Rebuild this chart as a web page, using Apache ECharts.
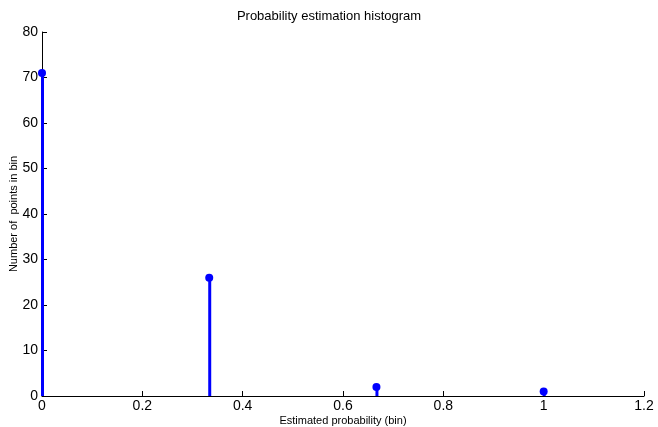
<!DOCTYPE html>
<html>
<head>
<meta charset="utf-8">
<script src="https://cdn.jsdelivr.net/npm/echarts@6/dist/echarts.min.js"></script>
<style>
  html, body { margin: 0; padding: 0; background: #fff; }
  #chart { width: 658px; height: 427px; }
</style>
</head>
<body>
<div id="chart"></div>
<script>
// bin centres and how many points fell into each bin
const binCenters = [0, 1 / 3, 2 / 3, 1]
const counts = [71, 26, 2, 1]
const xTicks = [0, 0.2, 0.4, 0.6, 0.8, 1, 1.2]
const yTicks = [0, 10, 20, 30, 40, 50, 60, 70, 80]

const points = binCenters.map((x, i) => [x, counts[i]])
const font = 'Liberation Sans, Arial, sans-serif'

const chart = echarts.init(document.getElementById('chart'), null, { renderer: 'canvas' })

chart.setOption({
  animation: false,
  title: {
    text: 'Probability estimation histogram',
    left: 'center',
    top: 5,
    textStyle: { fontFamily: font, fontSize: 13, fontWeight: 'normal', color: '#000' }
  },
  grid: { left: 42, right: 14, top: 32, bottom: 31, containLabel: false, outerBoundsMode: 'none' },
  xAxis: {
    type: 'value',
    min: xTicks[0],
    max: xTicks[xTicks.length - 1],
    interval: 0.2,
    name: 'Estimated probability (bin)',
    nameLocation: 'middle',
    nameGap: 19,
    nameMoveOverlap: false,
    nameTextStyle: { fontFamily: font, fontSize: 11, color: '#000' },
    axisLine: { show: true, lineStyle: { color: '#000', width: 1 } },
    axisTick: { show: true, inside: true, length: 5, lineStyle: { color: '#000' } },
    axisLabel: {
      fontFamily: font, fontSize: 14, color: '#000', margin: 3,
      formatter: v => String(Math.round(v * 10) / 10)
    },
    splitLine: { show: false }
  },
  yAxis: {
    type: 'value',
    min: yTicks[0],
    max: yTicks[yTicks.length - 1],
    interval: 10,
    name: 'Number of  points in bin',
    nameLocation: 'middle',
    nameGap: 23,
    nameMoveOverlap: false,
    nameTextStyle: { fontFamily: font, fontSize: 11, color: '#000' },
    axisLine: { show: true, lineStyle: { color: '#000', width: 1 } },
    axisTick: { show: true, inside: true, length: 5, lineStyle: { color: '#000' } },
    axisLabel: { fontFamily: font, fontSize: 14, color: '#000', margin: 4 },
    splitLine: { show: false }
  },
  series: [
    {
      // the stems
      type: 'custom',
      data: points,
      z: 3,
      renderItem: (params, api) => {
        const top = api.coord([api.value(0), api.value(1)])
        const base = api.coord([api.value(0), 0])
        return {
          type: 'line',
          shape: { x1: base[0] + 0.5, y1: base[1], x2: top[0] + 0.5, y2: top[1] },
          style: { stroke: '#0000ff', lineWidth: 3 }
        }
      }
    },
    {
      // the dots on top
      type: 'scatter',
      data: points,
      z: 4,
      symbol: 'circle',
      symbolSize: 8,
      itemStyle: { color: '#0000ff', opacity: 1 }
    }
  ]
})
</script>
</body>
</html>
